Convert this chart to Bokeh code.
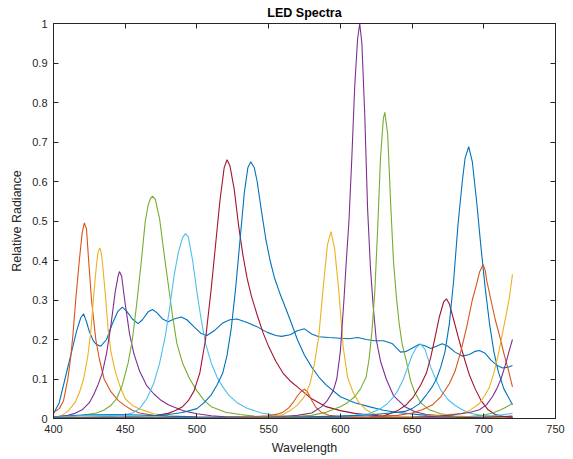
from bokeh.plotting import figure
from bokeh.models import Range1d, LinearAxis, FixedTicker
from bokeh.embed import file_html
from bokeh.resources import INLINE

# ---------------- data ----------------
x_ticks = [400, 450, 500, 550, 600, 650, 700, 750]
y_ticks = [0, 0.1, 0.2, 0.3, 0.4, 0.5, 0.6, 0.7, 0.8, 0.9, 1]
y_tick_labels = ["0", "0.1", "0.2", "0.3", "0.4", "0.5", "0.6", "0.7", "0.8", "0.9", "1"]

wl_broad = [400, 404, 408, 412, 416, 419, 421, 423, 425, 428, 430, 433, 437, 441, 445, 448, 451, 455, 459, 462, 466, 469, 472, 476, 480, 484, 489, 493, 498, 503, 507, 512, 518, 523, 528, 535, 542, 549, 555, 559, 565, 570, 575, 580, 585, 592, 600, 606, 612, 618, 624, 630, 636, 642, 646, 651, 655, 659, 663, 667, 671, 675, 680, 685, 690, 694, 697, 701, 705, 709, 713, 717, 720]
rad_broad = [0.012, 0.04, 0.10, 0.16, 0.22, 0.255, 0.265, 0.245, 0.22, 0.195, 0.187, 0.183, 0.20, 0.24, 0.272, 0.282, 0.272, 0.252, 0.24, 0.25, 0.27, 0.276, 0.268, 0.252, 0.245, 0.252, 0.257, 0.25, 0.232, 0.215, 0.21, 0.222, 0.242, 0.25, 0.252, 0.243, 0.232, 0.218, 0.21, 0.208, 0.212, 0.222, 0.227, 0.214, 0.207, 0.205, 0.203, 0.202, 0.205, 0.200, 0.197, 0.197, 0.19, 0.168, 0.170, 0.180, 0.188, 0.184, 0.177, 0.183, 0.189, 0.183, 0.168, 0.158, 0.162, 0.170, 0.172, 0.165, 0.148, 0.135, 0.128, 0.130, 0.134]

wl_or1 = [400, 404, 407, 410, 412, 413.5, 415.5, 418, 420, 421.5, 423, 424.5, 426.5, 429.5, 432, 435.3, 440, 445, 450, 455, 460, 470, 480, 500, 550, 600, 720]
rad_or1 = [0.015, 0.025, 0.045, 0.10, 0.155, 0.21, 0.30, 0.40, 0.47, 0.495, 0.48, 0.40, 0.30, 0.20, 0.15, 0.10, 0.068, 0.046, 0.032, 0.021, 0.014, 0.008, 0.005, 0.003, 0.0015, 0.001, 0.001]

wl_ye1 = [400, 405, 410, 415, 418, 421, 424, 426, 428, 430, 431, 432.3, 433, 434, 436, 438, 440, 443, 446, 450, 455, 460, 465, 470, 480, 500, 550, 720]
rad_ye1 = [0.003, 0.006, 0.018, 0.04, 0.065, 0.10, 0.16, 0.22, 0.31, 0.39, 0.42, 0.432, 0.425, 0.40, 0.32, 0.23, 0.17, 0.12, 0.085, 0.05, 0.033, 0.024, 0.018, 0.012, 0.006, 0.003, 0.0015, 0.001]

wl_pu1 = [400, 410, 415, 420, 425, 428, 431, 434, 437, 440, 443, 445, 446, 447.5, 450, 453, 456, 460, 465, 470, 475, 480, 490, 500, 510, 520, 540, 600, 720]
rad_pu1 = [0.003, 0.008, 0.013, 0.022, 0.04, 0.06, 0.085, 0.115, 0.165, 0.235, 0.32, 0.36, 0.372, 0.36, 0.29, 0.215, 0.165, 0.12, 0.083, 0.062, 0.046, 0.035, 0.02, 0.012, 0.007, 0.004, 0.002, 0.001, 0.001]

wl_gr1 = [400, 420, 430, 435, 440, 444, 448, 452, 455, 458, 461, 464, 466, 467.5, 469, 471, 474, 477, 480, 483, 486, 490, 495, 500, 505, 510, 520, 530, 540, 560, 600, 720]
rad_gr1 = [0.002, 0.008, 0.014, 0.021, 0.033, 0.05, 0.085, 0.14, 0.20, 0.29, 0.39, 0.50, 0.54, 0.556, 0.563, 0.555, 0.505, 0.42, 0.34, 0.26, 0.19, 0.14, 0.10, 0.07, 0.046, 0.03, 0.016, 0.01, 0.006, 0.003, 0.0015, 0.001]

wl_lb1 = [400, 440, 450, 455, 460, 465, 470, 474, 478, 481, 484, 487, 490, 492, 494, 497, 500, 503, 506, 510, 514, 518, 522, 528, 535, 545, 555, 570, 600, 720]
rad_lb1 = [0.001, 0.005, 0.01, 0.014, 0.025, 0.05, 0.09, 0.14, 0.21, 0.28, 0.36, 0.42, 0.458, 0.468, 0.46, 0.40, 0.32, 0.25, 0.19, 0.14, 0.105, 0.08, 0.06, 0.04, 0.026, 0.014, 0.008, 0.004, 0.002, 0.001]

wl_dr1 = [400, 440, 460, 470, 480, 485, 490, 494, 498, 502, 506, 510, 513, 516, 519, 521, 523, 526, 529, 532, 535, 538, 542, 546, 550, 555, 560, 565, 570, 575, 580, 585, 590, 600, 610, 620, 640, 660, 720]
rad_dr1 = [0.001, 0.002, 0.004, 0.007, 0.013, 0.02, 0.03, 0.045, 0.07, 0.115, 0.20, 0.33, 0.44, 0.55, 0.635, 0.655, 0.64, 0.58, 0.49, 0.415, 0.355, 0.31, 0.262, 0.218, 0.182, 0.145, 0.115, 0.095, 0.08, 0.065, 0.05, 0.04, 0.03, 0.02, 0.013, 0.009, 0.004, 0.002, 0.001]

wl_bl2 = [400, 450, 470, 480, 490, 500, 505, 510, 514, 518, 521, 524, 527, 530, 533, 535.5, 537.5, 540, 542, 545, 548, 551, 554, 558, 562, 566, 570, 575, 580, 585, 590, 600, 610, 620, 630, 640, 660, 680, 720]
rad_bl2 = [0.002, 0.004, 0.007, 0.01, 0.015, 0.025, 0.04, 0.06, 0.085, 0.115, 0.16, 0.23, 0.33, 0.45, 0.57, 0.635, 0.65, 0.635, 0.60, 0.525, 0.455, 0.40, 0.357, 0.315, 0.278, 0.24, 0.20, 0.16, 0.13, 0.105, 0.085, 0.055, 0.04, 0.03, 0.021, 0.015, 0.008, 0.005, 0.002]

wl_or2 = [400, 500, 520, 540, 550, 556, 560, 564, 567, 570, 573, 575, 577, 580, 583, 587, 592, 600, 620, 720]
rad_or2 = [0.001, 0.002, 0.003, 0.005, 0.007, 0.011, 0.016, 0.027, 0.04, 0.057, 0.07, 0.074, 0.068, 0.046, 0.028, 0.015, 0.008, 0.005, 0.003, 0.001]

wl_ye2 = [400, 540, 555, 560, 565, 570, 575, 579, 582, 585, 588, 591, 593.5, 596, 599, 602, 605, 609, 613, 618, 623, 630, 640, 660, 720]
rad_ye2 = [0.001, 0.002, 0.006, 0.01, 0.02, 0.034, 0.056, 0.09, 0.14, 0.21, 0.33, 0.44, 0.473, 0.43, 0.32, 0.18, 0.105, 0.065, 0.04, 0.022, 0.012, 0.007, 0.004, 0.002, 0.001]

wl_pu2 = [400, 540, 560, 570, 580, 587, 591, 595, 597.5, 600, 602.5, 604, 606, 608, 610, 612, 613.5, 615, 617, 619, 621, 623, 625, 628, 632, 637, 645, 652, 660, 680, 700, 720]
rad_pu2 = [0.001, 0.002, 0.005, 0.008, 0.014, 0.03, 0.046, 0.07, 0.10, 0.17, 0.30, 0.39, 0.50, 0.66, 0.84, 0.96, 1.0, 0.95, 0.77, 0.53, 0.38, 0.28, 0.20, 0.145, 0.10, 0.058, 0.03, 0.017, 0.01, 0.004, 0.002, 0.001]

wl_gr2 = [400, 560, 580, 590, 595, 600, 605, 610, 614, 618, 620, 622, 624, 626, 628, 630, 631, 633, 635, 637, 639, 641, 643, 646, 649, 652, 656, 662, 670, 680, 700, 720]
rad_gr2 = [0.001, 0.003, 0.008, 0.016, 0.023, 0.03, 0.04, 0.055, 0.075, 0.105, 0.15, 0.22, 0.32, 0.48, 0.66, 0.76, 0.775, 0.72, 0.55, 0.40, 0.31, 0.24, 0.19, 0.145, 0.095, 0.065, 0.04, 0.022, 0.012, 0.006, 0.003, 0.0015]

wl_lb2 = [400, 560, 590, 610, 620, 628, 633, 637, 640, 644, 647, 650, 653, 656, 659, 663, 667, 670, 675, 680, 685, 690, 698, 710, 720]
rad_lb2 = [0.001, 0.002, 0.004, 0.008, 0.012, 0.025, 0.038, 0.055, 0.07, 0.10, 0.13, 0.16, 0.18, 0.189, 0.175, 0.13, 0.095, 0.072, 0.048, 0.033, 0.022, 0.014, 0.008, 0.005, 0.004]

wl_dr2 = [400, 600, 620, 630, 640, 646, 651, 656, 660, 663, 666, 669, 672, 674, 676, 679, 683, 687, 690, 694, 698, 703, 708, 714, 720]
rad_dr2 = [0.001, 0.001, 0.003, 0.006, 0.02, 0.035, 0.055, 0.085, 0.115, 0.155, 0.205, 0.257, 0.295, 0.303, 0.29, 0.25, 0.195, 0.145, 0.11, 0.075, 0.046, 0.022, 0.01, 0.005, 0.003]

wl_bl3 = [400, 420, 440, 460, 480, 500, 560, 600, 620, 635, 645, 650, 655, 660, 664, 667, 670, 673, 676, 679, 682, 685, 687, 689.5, 692, 695, 698, 701, 704, 707, 710, 714, 717, 720]
rad_bl3 = [0.004, 0.009, 0.01, 0.009, 0.006, 0.004, 0.003, 0.006, 0.009, 0.014, 0.018, 0.025, 0.037, 0.06, 0.08, 0.10, 0.13, 0.17, 0.24, 0.35, 0.49, 0.60, 0.66, 0.688, 0.65, 0.55, 0.435, 0.33, 0.24, 0.17, 0.12, 0.075, 0.055, 0.035]

wl_or3 = [400, 600, 620, 640, 650, 657, 664, 670, 676, 680, 684, 688, 692, 695, 697, 699.5, 701, 702, 705, 708, 711, 714, 717, 720]
rad_or3 = [0.001, 0.002, 0.004, 0.008, 0.014, 0.022, 0.034, 0.055, 0.088, 0.12, 0.17, 0.23, 0.30, 0.34, 0.37, 0.39, 0.375, 0.35, 0.30, 0.25, 0.21, 0.165, 0.125, 0.08]

wl_ye3 = [400, 600, 640, 660, 675, 685, 690, 697, 701, 704, 707, 710, 713, 716, 718, 720]
rad_ye3 = [0.001, 0.001, 0.003, 0.006, 0.01, 0.013, 0.02, 0.038, 0.06, 0.08, 0.115, 0.16, 0.215, 0.27, 0.31, 0.365]

wl_pu3 = [400, 600, 650, 670, 680, 690, 697, 702, 706, 709, 712, 715, 718, 720]
rad_pu3 = [0.001, 0.001, 0.003, 0.006, 0.01, 0.015, 0.022, 0.035, 0.055, 0.075, 0.10, 0.135, 0.175, 0.20]

wl_gr3 = [400, 660, 690, 700, 706, 712, 716, 720]
rad_gr3 = [0.001, 0.002, 0.005, 0.009, 0.014, 0.022, 0.03, 0.038]

wl_lb3 = [400, 420, 440, 460, 480, 520, 680, 700, 710, 720]
rad_lb3 = [0.003, 0.007, 0.008, 0.006, 0.003, 0.001, 0.002, 0.005, 0.008, 0.013]

wl_dr3 = [400, 600, 680, 700, 720]
rad_dr3 = [0.001, 0.001, 0.002, 0.003, 0.006]

# MATLAB default colour order
colors = ["#0072BD", "#D95319", "#EDB120", "#7E2F8E", "#77AC30", "#4DBEEE", "#A2142F"]

series = [
    (wl_broad, rad_broad), (wl_or1, rad_or1), (wl_ye1, rad_ye1), (wl_pu1, rad_pu1),
    (wl_gr1, rad_gr1), (wl_lb1, rad_lb1), (wl_dr1, rad_dr1),
    (wl_bl2, rad_bl2), (wl_or2, rad_or2), (wl_ye2, rad_ye2), (wl_pu2, rad_pu2),
    (wl_gr2, rad_gr2), (wl_lb2, rad_lb2), (wl_dr2, rad_dr2),
    (wl_bl3, rad_bl3), (wl_or3, rad_or3), (wl_ye3, rad_ye3), (wl_pu3, rad_pu3),
    (wl_gr3, rad_gr3), (wl_lb3, rad_lb3), (wl_dr3, rad_dr3),
]

FONT = "Liberation Sans"
AX = "#262626"

p = figure(width=568, height=457, output_backend="svg", toolbar_location=None,
           x_range=Range1d(400, 750), y_range=Range1d(0, 1),
           title="LED Spectra",
           min_border_left=53, min_border_right=13, min_border_top=0, min_border_bottom=38)

p.title.align = "center"
p.title.text_font = FONT
p.title.text_font_size = "12.5px"
p.title.text_font_style = "bold"
p.title.text_color = "#000000"
p.title.standoff = 7

for i, (xs, ys) in enumerate(series):
    p.line(xs, ys, line_color=colors[i % 7], line_width=1.1)

p.xgrid.visible = False
p.ygrid.visible = False
p.outline_line_color = AX
p.background_fill_color = "white"

def style_axis(ax, show_labels):
    ax.axis_line_color = AX
    ax.major_tick_line_color = AX
    ax.minor_tick_line_color = None
    ax.major_tick_in = 5
    ax.major_tick_out = 0
    ax.major_label_text_font = FONT
    ax.major_label_text_color = AX if show_labels else None
    ax.major_label_text_font_size = "11px" if show_labels else "1px"
    ax.axis_label_text_font = FONT
    ax.axis_label_text_font_size = "12.5px"
    ax.axis_label_text_font_style = "normal"
    ax.axis_label_text_color = AX

xb = p.xaxis[0]
yl = p.yaxis[0]
xb.ticker = FixedTicker(ticks=x_ticks)
yl.ticker = FixedTicker(ticks=y_ticks)
yl.major_label_overrides = {t: s for t, s in zip(y_ticks, y_tick_labels)}
style_axis(xb, True)
style_axis(yl, True)
xb.axis_label = "Wavelength"
yl.axis_label = "Relative Radiance"
xb.major_label_standoff = 6
yl.major_label_standoff = 6
xb.axis_label_standoff = 5
yl.axis_label_standoff = 5

xt = LinearAxis(ticker=FixedTicker(ticks=x_ticks))
yr = LinearAxis(ticker=FixedTicker(ticks=y_ticks))
style_axis(xt, False)
style_axis(yr, False)
xt.major_label_standoff = 0
yr.major_label_standoff = 0
p.add_layout(xt, "above")
p.add_layout(yr, "right")

open("out.html", "w").write(file_html(p, INLINE))
